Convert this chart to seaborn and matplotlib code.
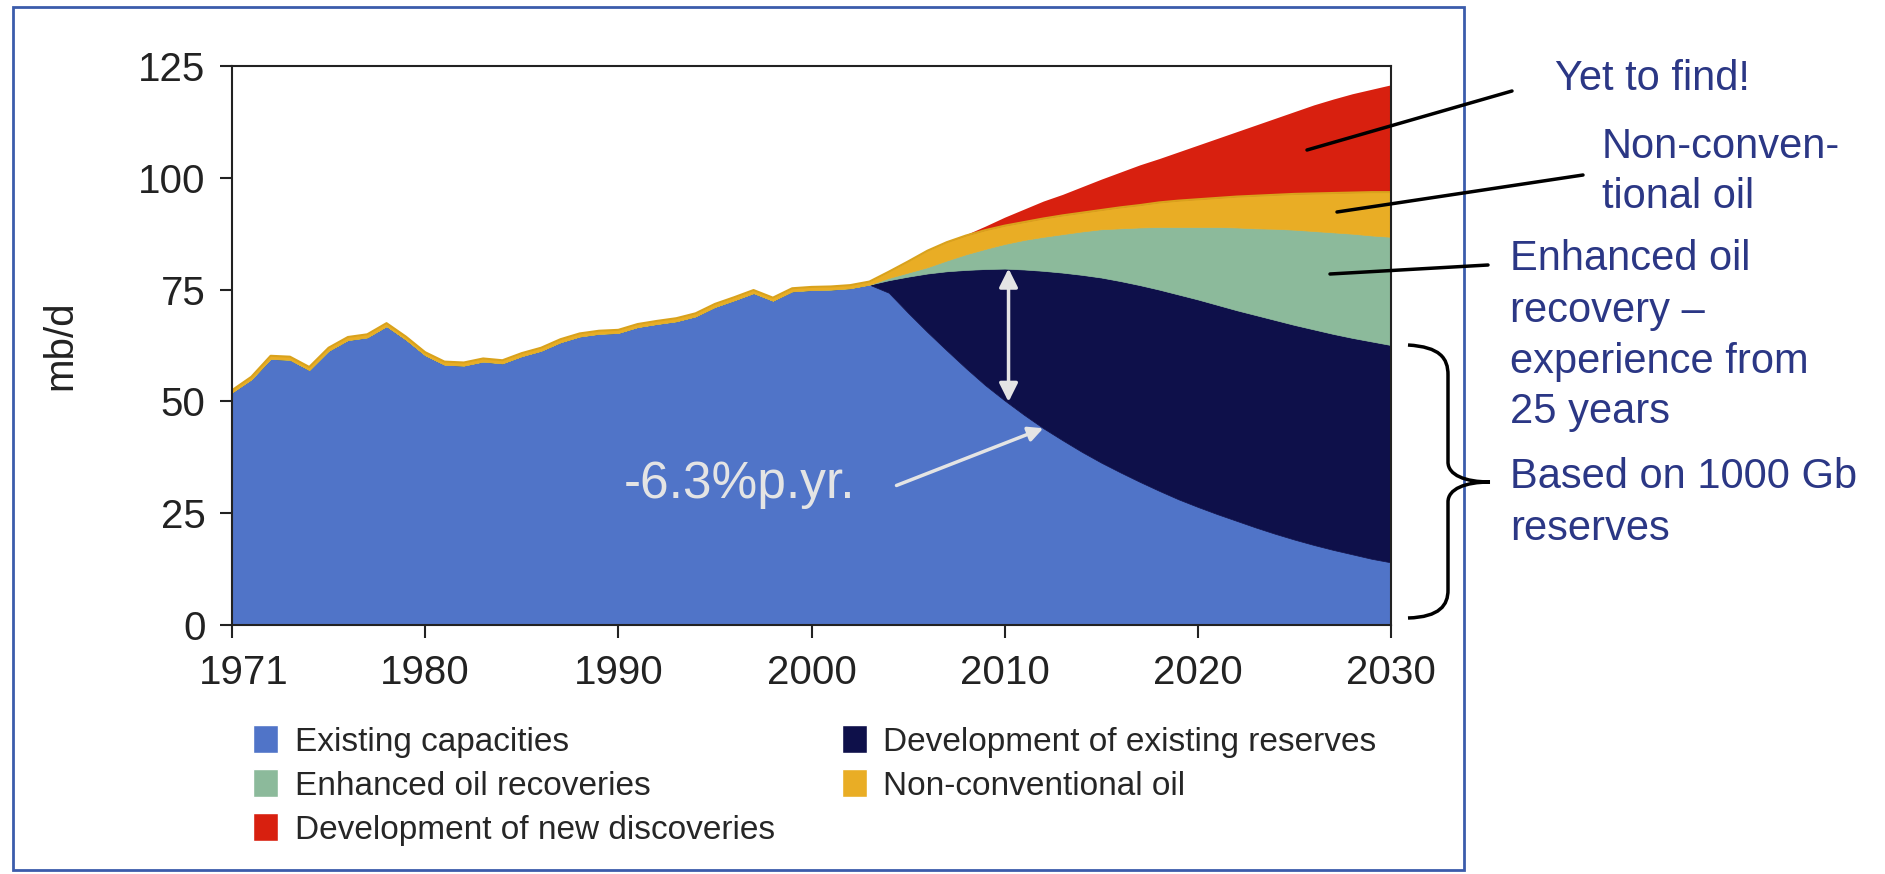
import numpy as np
import matplotlib
matplotlib.use("Agg")
import matplotlib.pyplot as plt
from matplotlib.patches import Patch, Rectangle, PathPatch
from matplotlib.path import Path
from matplotlib.lines import Line2D
from matplotlib.transforms import ScaledTranslation
import seaborn as sns

# -----------------------------
# Data (mb/d)
# -----------------------------
years = np.arange(1970, 2031)
tick_years = [1970, 1980, 1990, 2000, 2010, 2020, 2030]
tick_labels = ["1971", "1980", "1990", "2000", "2010", "2020", "2030"]

# history up to 2003
hist_total = [52.5, 55.5, 60.2, 60.0, 57.7, 62.0, 64.4, 65.0, 67.5, 64.5,
              61.0, 58.9, 58.7, 59.6, 59.2, 60.8, 62.0, 63.9, 65.2, 65.8,
              66.0, 67.3, 68.0, 68.6, 69.7, 71.8, 73.3, 74.9, 73.2, 75.3,
              75.6, 75.7, 76.0, 76.8]
hist_existing = [52.0, 54.9, 59.5, 59.3, 57.0, 61.3, 63.7, 64.3, 66.8, 63.8,
                 60.3, 58.2, 58.0, 58.9, 58.5, 60.1, 61.3, 63.2, 64.5, 65.1,
                 65.3, 66.6, 67.3, 67.9, 69.0, 71.1, 72.6, 74.2, 72.5, 74.6,
                 74.9, 75.0, 75.3, 76.1]

# projections 2004-2030 (upper edge of each band)
existing_future = [74.3, 69.8, 65.5, 61.4, 57.4, 53.6, 50.2, 47.0, 44.0, 41.3,
                   38.7, 36.3, 34.1, 32.0, 30.0, 28.1, 26.4, 24.8, 23.3, 21.8,
                   20.4, 19.1, 17.9, 16.8, 15.8, 14.8, 14.0]
dev_existing_future = [77.1, 77.9, 78.6, 79.1, 79.4, 79.6, 79.7, 79.5, 79.2, 78.8,
                       78.3, 77.7, 76.9, 76.0, 75.0, 73.9, 72.8, 71.6, 70.4, 69.3,
                       68.2, 67.1, 66.1, 65.1, 64.2, 63.4, 62.6]
eor_future = [77.6, 78.8, 80.0, 81.5, 82.9, 84.1, 85.2, 86.1, 86.8, 87.4,
              88.0, 88.5, 88.7, 88.9, 89.0, 89.0, 89.0, 89.0, 88.9, 88.7,
              88.6, 88.4, 88.1, 87.8, 87.5, 87.1, 86.8]
nonconv_future = [79.0, 81.3, 83.7, 85.6, 87.1, 88.3, 89.3, 90.1, 90.9, 91.6,
                  92.2, 92.8, 93.4, 93.9, 94.5, 94.9, 95.2, 95.5, 95.8, 96.0,
                  96.2, 96.4, 96.5, 96.6, 96.7, 96.8, 96.8]
newdisc_future = [79.0, 81.3, 83.7, 85.6, 87.3, 89.2, 91.2, 93.0, 94.8, 96.3,
                  98.0, 99.7, 101.3, 102.9, 104.3, 105.8, 107.3, 108.8, 110.3, 111.8,
                  113.3, 114.8, 116.3, 117.6, 118.8, 119.8, 120.8]

existing = np.array(hist_existing + existing_future)
dev_top = np.array(hist_existing + dev_existing_future)
eor_top = np.array(hist_existing + eor_future)
nonconv_top = np.array(hist_total + nonconv_future)
newdisc_top = np.array(hist_total + newdisc_future)

labels = ["Existing capacities", "Enhanced oil recoveries",
          "Development of new discoveries", "Development of existing reserves",
          "Non-conventional oil"]
colors = {"existing": "#5074c8", "dev": "#0e104a", "eor": "#8cba9b",
          "nonconv": "#e9ad25", "newdisc": "#d8200f"}

# -----------------------------
# Figure
# -----------------------------
sns.set_style("ticks")
plt.rcParams["font.family"] = ["Liberation Sans", "DejaVu Sans"]

W, H = 1885, 874
fig = plt.figure(figsize=(W / 100, H / 100), dpi=100)
fx = lambda px: px / W
fy = lambda py: 1 - py / H

ax = fig.add_axes([fx(232), fy(625), fx(1391) - fx(232), fy(66) - fy(625)])

ax.fill_between(years, 0, existing, color=colors["existing"], lw=0.5)
ax.fill_between(years, existing, dev_top, color=colors["dev"], lw=0.5)
ax.fill_between(years, dev_top, eor_top, color=colors["eor"], lw=0.5)
ax.fill_between(years, eor_top, nonconv_top, color=colors["nonconv"], lw=0.5)
# thin yellow rim over the historical series
ax.plot(years, nonconv_top, color="#d9a21c", lw=1.5)
ax.fill_between(years, nonconv_top, newdisc_top, color=colors["newdisc"], lw=0)

ax.set_xlim(1970, 2030)
ax.set_ylim(0, 125)
ax.set_yticks([0, 25, 50, 75, 100, 125])
ax.set_xticks(tick_years)
ax.set_xticklabels(tick_labels)

ax.tick_params(axis="both", direction="out", length=9, width=1.5,
               labelsize=29, colors="#222222")
ax.tick_params(axis="y", pad=10)
ax.tick_params(axis="x", pad=12)
first = ax.get_xticklabels()[0]
first.set_transform(first.get_transform() +
                    ScaledTranslation(0.12, 0, fig.dpi_scale_trans))
for side in ["left", "bottom", "top", "right"]:
    ax.spines[side].set_color("#222222")
    ax.spines[side].set_linewidth(1.5)

ax.set_ylabel("mb/d", fontsize=29, color="#222222")
ax.yaxis.set_label_coords(-0.132, 0.5)

# white arrows inside the chart
i2010 = list(years).index(2010)
ax.annotate("", xy=(2010.2, existing[i2010] - 0.3), xytext=(2010.2, dev_top[i2010]),
            arrowprops=dict(arrowstyle="<|-|>", color="#e4e4e4", lw=2.5,
                            mutation_scale=28, shrinkA=0, shrinkB=0))
i2012 = list(years).index(2012)
ax.annotate("", xy=(2012, existing[i2012]), xytext=(2004.4, 31.2),
            arrowprops=dict(arrowstyle="-|>", color="#e4e4e4", lw=2.5,
                            mutation_scale=22, shrinkA=0, shrinkB=0))
ax.text(1996.3, 31.5, "-6.3%p.yr.", fontsize=37, color="#e4e4e4",
        ha="center", va="center")

# legend
handles = [Patch(facecolor=colors[k]) for k in
           ["existing", "eor", "newdisc", "dev", "nonconv"]]
fig.legend(handles, labels, ncol=2, loc="upper left",
           bbox_to_anchor=(fx(240), fy(712)), frameon=False,
           handlelength=0.75, handleheight=0.9, handletextpad=0.5,
           columnspacing=2.0, labelspacing=0.35, borderaxespad=0,
           prop={"size": 24})

# outer frame
fig.add_artist(Rectangle((fx(13), fy(870)), fx(1464) - fx(13), fy(7) - fy(870),
                         transform=fig.transFigure, fill=False,
                         edgecolor="#3b5cab", lw=2))

# right-hand notes
note_color = "#2b3785"
notes = [("Yet to find!", 1555, 90),
         ("Non-conven-", 1602, 158), ("tional oil", 1602, 208),
         ("Enhanced oil", 1510, 270), ("recovery \u2013", 1510, 322),
         ("experience from", 1510, 373), ("25 years", 1510, 423),
         ("Based on 1000 Gb", 1510, 488), ("reserves", 1510, 540)]
for txt, px, py in notes:
    fig.text(fx(px), fy(py), txt, fontsize=30, color=note_color,
             ha="left", va="baseline")

leaders = [((1512, 91), (1307, 150)),
           ((1583, 175), (1337, 212)),
           ((1488, 265), (1330, 274))]
for (x0, y0), (x1, y1) in leaders:
    fig.add_artist(Line2D([fx(x0), fx(x1)], [fy(y0), fy(y1)],
                          transform=fig.transFigure, color="black", lw=2.5))

# curly brace
brace_px = [(1408, 345), (1440, 347), (1448, 358), (1448, 375),
            (1448, 462),
            (1448, 475), (1465, 482), (1490, 482),
            (1465, 482), (1448, 489), (1448, 502),
            (1448, 590),
            (1448, 605), (1440, 617), (1408, 618)]
codes = [Path.MOVETO, Path.CURVE4, Path.CURVE4, Path.CURVE4,
         Path.LINETO,
         Path.CURVE4, Path.CURVE4, Path.CURVE4,
         Path.CURVE4, Path.CURVE4, Path.CURVE4,
         Path.LINETO,
         Path.CURVE4, Path.CURVE4, Path.CURVE4]
brace = Path([(fx(x), fy(y)) for x, y in brace_px], codes)
fig.add_artist(PathPatch(brace, transform=fig.transFigure, fill=False,
                         edgecolor="black", lw=2.5))

fig.savefig("out.png", dpi=100, facecolor="white")
